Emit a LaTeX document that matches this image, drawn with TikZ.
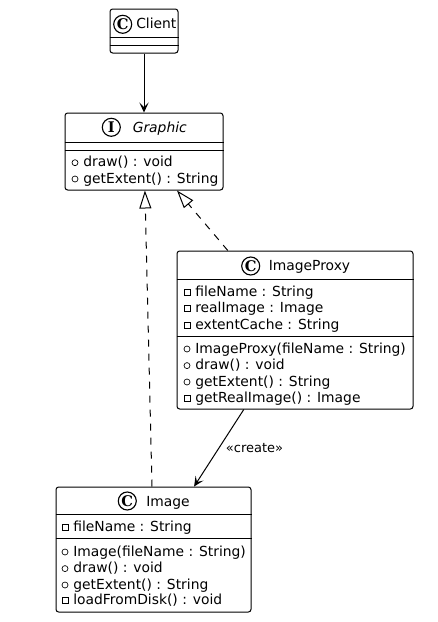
\documentclass[tikz,border=0pt]{standalone}
\usepackage{fontspec}
\setmainfont{DejaVu Sans}
\newfontfamily\iconfont{DejaVu Serif}
\usetikzlibrary{positioning, arrows.meta}

\tikzset{
    classbox/.style={draw, rounded corners=2pt, line width=0.75pt, inner sep=0pt},
    icon/.style={draw, circle, line width=0.85pt, inner sep=0pt, minimum size=13.5pt, font=\iconfont\bfseries\fontsize{11}{11}\selectfont},
    title/.style={anchor=base west, inner sep=0pt, font=\fontsize{10.4}{12}\selectfont},
    member/.style={anchor=base west, inner sep=0pt, font=\fontsize{10.4}{12}\selectfont},
    pubmark/.style={draw, circle, line width=0.5pt, inner sep=0pt, minimum size=4.5pt},
    privmark/.style={draw, rectangle, line width=0.5pt, inner sep=0pt, minimum size=4.5pt},
    sep/.style={line width=0.75pt},
    uses/.style={line width=0.75pt, -{Stealth[length=7.5pt, width=7pt, inset=3.5pt]}},
    realizes/.style={line width=0.75pt, dashed, dash pattern=on 5.25pt off 5.25pt, -{Triangle[open, length=13.5pt, width=9pt]}}
}

% one line of a class: name, x and y of the text, text
\newcommand{\pubmember}[4]{
    \node[pubmark] (#1mark) at (#2-8,#3-4) {};
    \node[member] (#1) at (#2,#3) {#4};
}
\newcommand{\privmember}[4]{
    \node[privmark] (#1mark) at (#2-8,#3-4) {};
    \node[member] (#1) at (#2,#3) {#4};
}

\begin{document}
\begin{tikzpicture}[x=0.75pt, y=-0.75pt]
    \useasboundingbox (0,0) rectangle (437,622);

    % classes
    \node[classbox, minimum width=51pt, minimum height=33pt] (client) at (144,31) {};
    \node[classbox, minimum width=118.5pt, minimum height=57.75pt] (graphic) at (144,151.5) {};
    \node[classbox, minimum width=177pt, minimum height=118.5pt] (proxy) at (295,330) {};
    \node[classbox, minimum width=146.25pt, minimum height=93.75pt] (image) at (153.5,549.5) {};

    % compartments
    \draw[sep] (client.west |- 0,37) -- (client.east |- 0,37);
    \draw[sep] (client.west |- 0,45) -- (client.east |- 0,45);
    \draw[sep] (graphic.west |- 0,142) -- (graphic.east |- 0,142);
    \draw[sep] (graphic.west |- 0,150) -- (graphic.east |- 0,150);
    \draw[sep] (proxy.west |- 0,279) -- (proxy.east |- 0,279);
    \draw[sep] (proxy.west |- 0,336) -- (proxy.east |- 0,336);
    \draw[sep] (image.west |- 0,514) -- (image.east |- 0,514);
    \draw[sep] (image.west |- 0,538) -- (image.east |- 0,538);

    % headers
    \node[icon] (clienticon) at (122.7,24.3) {C};
    \node[title] (clienttitle) at (136,28) {Client};
    \node[icon] (graphicicon) at (111.3,127.3) {I};
    \node[title] (graphictitle) at (132.5,132.7) {\itshape Graphic};
    \node[icon] (proxyicon) at (250.7,266) {C};
    \node[title] (proxytitle) at (268.5,270) {ImageProxy};
    \node[icon] (imageicon) at (127.3,501) {C};
    \node[title] (imagetitle) at (146,506) {Image};

    % members
    \pubmember{gdraw}{83}{166.7}{draw() : void}
    \pubmember{gextent}{83}{183}{getExtent() : String}

    \privmember{pfile}{195}{296.7}{fileName : String}
    \privmember{preal}{195}{312.7}{realImage : Image}
    \privmember{pcache}{195}{329}{extentCache : String}
    \pubmember{pctor}{195}{353}{ImageProxy(fileName : String)}
    \pubmember{pdraw}{195}{369.6}{draw() : void}
    \pubmember{pextent}{195}{386}{getExtent() : String}
    \privmember{pget}{195}{402}{getRealImage() : Image}

    \privmember{ifile}{73}{531.7}{fileName : String}
    \pubmember{ictor}{73}{556}{Image(fileName : String)}
    \pubmember{idraw}{73}{572.6}{draw() : void}
    \pubmember{iextent}{73}{589}{getExtent() : String}
    \privmember{iload}{73}{604.7}{loadFromDisk() : void}

    % relations
    \draw[uses] (client) -- (graphic);
    \draw[realizes] (image) -- (graphic);
    \draw[realizes] (proxy) -- (graphic);
    \draw[uses] (proxy) -- (image);
    \node[member, font=\fontsize{9.75}{12}\selectfont] (createlabel) at (225.7,452.7) {«create»};
\end{tikzpicture}
\end{document}
